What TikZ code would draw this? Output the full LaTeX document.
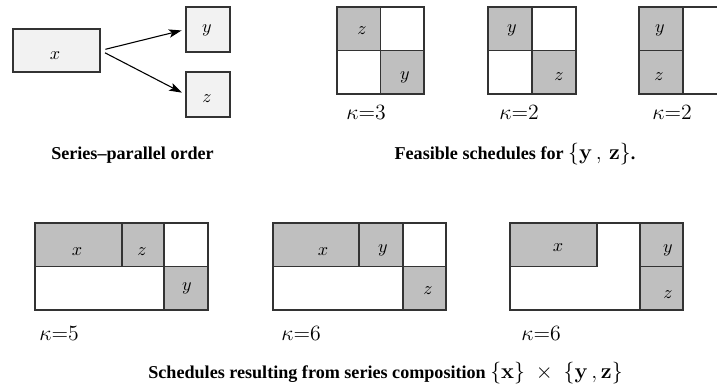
\documentclass[tikz,border=0pt]{standalone}
\usepackage[no-math]{fontspec}
\setmainfont{Liberation Serif}
\usetikzlibrary{arrows.meta}
\def\u{0.552pt}
\tikzset{
  spbox/.style={draw=black!80, fill=black!5, line width=0.6pt, inner sep=0pt, rectangle},
  busy/.style={draw=black!80, fill=black!25, line width=0.6pt},
  idle/.style={draw=black!80, fill=white, line width=0.6pt},
  lbl/.style={inner sep=0pt, font=\normalsize},
  kap/.style={inner sep=0pt, anchor=base west, font=\large},
  captext/.style={inner sep=0pt, anchor=base, font=\bfseries},
  arr/.style={draw=black, line width=0.6pt, -{Stealth[length=7pt,width=4.6pt,inset=1.6pt]}},
}
\begin{document}
\begin{tikzpicture}[x=\u, y=-\u]
\useasboundingbox (0,0) rectangle (717,385);
\clip (0,0) rectangle (717,385);
% series-parallel order
\node[spbox, minimum width=87*\u, minimum height=43*\u] (bx) at (56.5,50.5) {};
\node[spbox, minimum width=44*\u, minimum height=45*\u] (by) at (208,29.5) {};
\node[spbox, minimum width=44*\u, minimum height=45*\u] (bz) at (208,94.5) {};
\node[lbl] (lx) at (55,55.5) {$x$};
\node[lbl] (ly) at (207,30) {$y$};
\node[lbl] (lz) at (207,99) {$z$};
\draw[arr, shorten <=5*\u, shorten >=4*\u] (bx.east) -- (by.west);
\draw[arr, shorten <=5*\u, shorten >=4*\u] (bx.east) -- (bz.west);
\node[captext] (c1) at (132.5,159) {Series–parallel order};
% feasible schedules
\draw[idle] (337,7) rectangle (424,94);
\draw[busy] (337,7) rectangle (380.5,50.5);
\draw[busy] (380.5,50.5) rectangle (424,94);
\node[lbl] (g1z) at (362,31) {$z$};
\node[lbl] (g1y) at (405,77) {$y$};
\node[kap] (k1) at (346,119.5) {$\kappa{=}3$};
\draw[idle] (488,7) rectangle (576,94);
\draw[busy] (488,7) rectangle (532,50.5);
\draw[busy] (532,50.5) rectangle (576,94);
\node[lbl] (g2y) at (512,30) {$y$};
\node[lbl] (g2z) at (559,77) {$z$};
\node[kap] (k2) at (499,119.5) {$\kappa{=}2$};
\draw[idle] (639,7) rectangle (727,94);
\draw[busy] (639,7) rectangle (683,50.5);
\draw[busy] (639,50.5) rectangle (683,94);
\node[lbl] (g3y) at (660,30) {$y$};
\node[lbl] (g3z) at (659,77) {$z$};
\node[kap] (k3) at (652,119.5) {$\kappa{=}2$};
\node[captext] (c2) at (515,159) {Feasible schedules for {\large$\{\mathbf{y}\,,\,\mathbf{z}\}$}.};
% series composition schedules
\draw[idle] (35,223) rectangle (208,310);
\draw[busy] (35,223) rectangle (122,266.5);
\draw[busy] (122,223) rectangle (164,266.5);
\draw[busy] (164,266.5) rectangle (208,310);
\node[lbl] (s1x) at (77,252) {$x$};
\node[lbl] (s1z) at (142,252) {$z$};
\node[lbl] (s1y) at (187,288) {$y$};
\node[kap] (k4) at (39,340) {$\kappa{=}5$};
\draw[idle] (273,223) rectangle (446,310);
\draw[busy] (273,223) rectangle (359,266.5);
\draw[busy] (359,223) rectangle (403,266.5);
\draw[busy] (403,266.5) rectangle (446,310);
\node[lbl] (s2x) at (323,252) {$x$};
\node[lbl] (s2y) at (383,250) {$y$};
\node[lbl] (s2z) at (428,291) {$z$};
\node[kap] (k5) at (281,340) {$\kappa{=}6$};
\draw[idle] (510,223) rectangle (683,310);
\draw[busy] (510,223) rectangle (597,266.5);
\draw[busy] (640,223) rectangle (683,266.5);
\draw[busy] (640,266.5) rectangle (683,310);
\node[lbl] (s3x) at (558,248) {$x$};
\node[lbl] (s3y) at (668,250) {$y$};
\node[lbl] (s3z) at (668,295) {$z$};
\node[kap] (k6) at (521,340) {$\kappa{=}6$};
\node[captext] (c3) at (385.5,378) {Schedules resulting from series composition {\large$\{\mathbf{x}\}\;\times\;\{\mathbf{y}\,,\mathbf{z}\}$}};
\end{tikzpicture}
\end{document}
